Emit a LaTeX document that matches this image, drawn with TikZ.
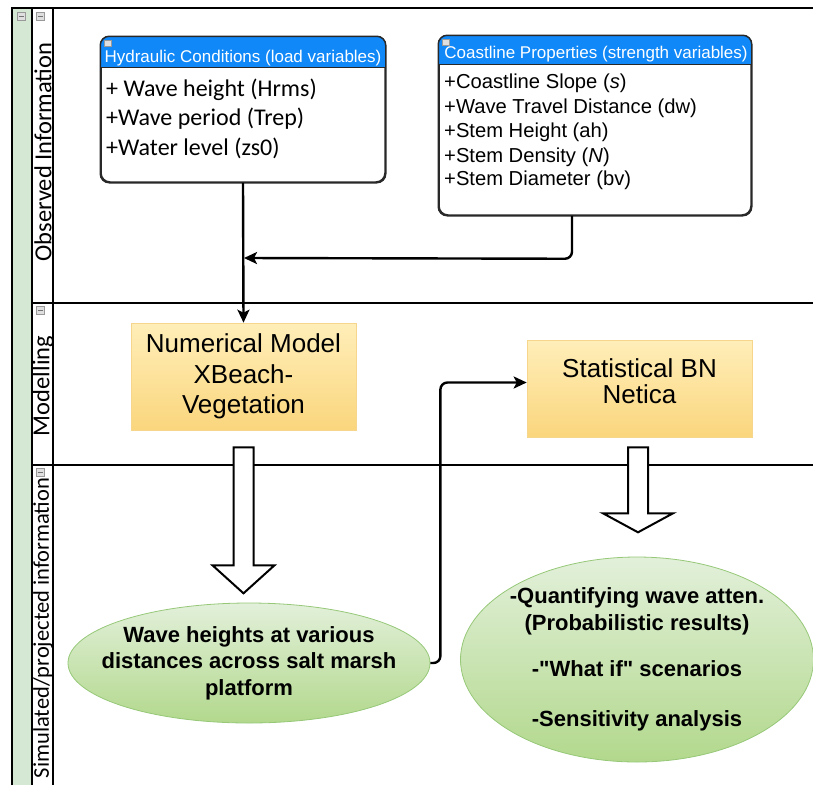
\documentclass[tikz,border=0pt]{standalone}
\usepackage{fontspec}
\setmainfont{Liberation Sans}
\newfontfamily\carl{Carlito}
\usetikzlibrary{arrows.meta,shapes.geometric}
\definecolor{lanegreen}{RGB}{213,232,212}
\definecolor{hdrblue}{RGB}{16,136,248}
\definecolor{orTop}{RGB}{255,238,185}
\definecolor{orBot}{RGB}{250,214,125}
\definecolor{orLine}{RGB}{246,214,140}
\definecolor{grTop}{RGB}{226,240,218}
\definecolor{grBot}{RGB}{178,216,140}
\definecolor{grLine}{RGB}{150,200,120}
\definecolor{boxline}{RGB}{40,40,40}
\tikzset{
  lane/.style={line width=1.4pt, black},
  icon/.style={draw=gray!80, fill=gray!25, line width=0.5pt},
  classbox/.style={draw=boxline, line width=1.5pt, rounded corners=9pt, fill=white, inner sep=0pt},
  hdrtext/.style={text=white, font=\fontsize{17}{19}\selectfont, inner sep=0pt},
  bodyH/.style={anchor=west, font=\carl\fontsize{24}{26}\selectfont, inner sep=0pt},
  bodyC/.style={anchor=west, font=\fontsize{20.2}{22}\selectfont, inner sep=0pt},
  procbox/.style={draw=orLine, line width=0.6pt, top color=orTop, bottom color=orBot, inner sep=0pt, align=center, font=\fontsize{26}{30.5}\selectfont},
  result/.style={ellipse, draw=grLine, line width=0.8pt, top color=grTop, bottom color=grBot, inner sep=0pt},
  restext/.style={align=center, inner sep=0pt, font=\bfseries\fontsize{22}{26.5}\selectfont},
  conn/.style={line width=2.4pt, rounded corners=7pt, -{Stealth[length=13pt,width=12pt,inset=3pt]}},
  blk/.style={draw=black, line width=2pt, fill=white, line join=miter},
  lanelabel/.style={rotate=90, font=\carl\fontsize{24.5}{26}\selectfont, inner sep=0pt}
}
\newcommand{\minusicon}[2]{%
  \draw[icon] (#1-4,#2-4) rectangle (#1+4,#2+4);
  \draw[gray!90!black, line width=0.8pt] (#1-2.5,#2) -- (#1+2.5,#2);}
\begin{document}
\begin{tikzpicture}[x=1pt,y=-1pt]
\useasboundingbox (0,0) rectangle (813,785);
% swimlane frame
\fill[lanegreen] (12,8) rectangle (32,785);
\draw[lane] (12,785) -- (12,8) -- (813,8);
\draw[lane] (32,8) -- (32,785);
\draw[lane] (53,8) -- (53,785);
\draw[lane] (32,303) -- (813,303);
\draw[lane] (32,465) -- (813,465);
\minusicon{21}{16}
\minusicon{40}{16}
\minusicon{40}{310}
\minusicon{40}{472}
\node[lanelabel] (l1) at (43,152) {Observed Information};
\node[lanelabel] (l2) at (43,386) {Modelling};
\node[lanelabel, font=\carl\fontsize{22.5}{24}\selectfont] (l3) at (43,628) {Simulated/projected information};

% Hydraulic conditions box
\node[classbox, minimum width=284pt, minimum height=145pt] (hyd) at (243,109.5) {};
\begin{scope}
  \clip[rounded corners=9pt] (hyd.north west) rectangle (hyd.south east);
  \fill[hdrblue] (hyd.north west) rectangle ([yshift=-31pt]hyd.north east);
\end{scope}
\draw[boxline, line width=1pt] ([yshift=-31pt]hyd.north west) -- ([yshift=-31pt]hyd.north east);
\draw[boxline, line width=1.5pt, rounded corners=9pt] (hyd.north west) rectangle (hyd.south east);
\draw[icon] (104,40) rectangle (111,46);
\node[hdrtext] (hydh) at (243,58) {Hydraulic Conditions (load variables)};
\node[bodyH] (h1) at (106,90) {+ Wave height (Hrms)};
\node[bodyH] (h2) at (106,119) {+Wave period (Trep)};
\node[bodyH] (h3) at (106,148) {+Water level (zs0)};

% Coastline properties box
\node[classbox, minimum width=312pt, minimum height=179pt] (coast) at (595,125.5) {};
\begin{scope}
  \clip[rounded corners=9pt] (coast.north west) rectangle (coast.south east);
  \fill[hdrblue] (coast.north west) rectangle ([yshift=-29pt]coast.north east);
\end{scope}
\draw[boxline, line width=1pt] ([yshift=-29pt]coast.north west) -- ([yshift=-29pt]coast.north east);
\draw[boxline, line width=1.5pt, rounded corners=9pt] (coast.north west) rectangle (coast.south east);
\draw[icon] (442,39) rectangle (449,45);
\node[hdrtext] (coasth) at (596,54) {Coastline Properties (strength variables)};
\node[bodyC] (c1) at (444,83) {+Coastline Slope (\textit{s})};
\node[bodyC] (c2) at (444,108) {+Wave Travel Distance (dw)};
\node[bodyC] (c3) at (444,132) {+Stem Height (ah)};
\node[bodyC] (c4) at (444,157) {+Stem Density (\textit{N})};
\node[bodyC] (c5) at (444,180) {+Stem Diameter (bv)};

% Modelling boxes
\node[procbox, minimum width=225pt, minimum height=107pt] (num) at (243.5,376.5) {Numerical Model\\XBeach-\\Vegetation};
\node[procbox, minimum width=225pt, minimum height=97pt] (stat) at (639.5,388.5) {};
\node[font=\fontsize{26}{26}\selectfont, align=center, inner sep=0pt] (statt) at (639.5,381) {Statistical BN\\Netica};

% Results
\node[result, minimum width=362pt, minimum height=120pt] (ell1) at (249,663) {};
\node[restext] (ell1t) at (ell1.center) {Wave heights at various\\distances across salt marsh\\platform};
\node[result, minimum width=353pt, minimum height=205pt] (ell2) at (637,659.5) {};
\node[restext] (ell2t) at (ell2.center) {-Quantifying wave atten.\\(Probabilistic results)\\[20pt]-\textquotedbl What if\textquotedbl{} scenarios\\[23pt]-Sensitivity analysis};

% connectors
\coordinate (j) at (244,258);
\draw[conn] (hyd.south) -- (num.north);
\draw[conn] ([xshift=-23pt]coast.south) -- ++(0,43) -- (j);
\draw[conn] (ell1.east) -- ++(10,0) |- ([yshift=6pt]stat.west);

% block arrows
\draw[blk] (num.south) ++(-10,17) -- ++(20,0) -- ++(0,118) -- ++(21,0) -- ++(-31,28) -- ++(-31,-28) -- ++(21,0) -- cycle;
\draw[blk] (stat.south) ++(-11.5,10) -- ++(20,0) -- ++(0,66) -- ++(25,0) -- ++(-35,19) -- ++(-35,-19) -- ++(25,0) -- cycle;
\end{tikzpicture}
\end{document}
